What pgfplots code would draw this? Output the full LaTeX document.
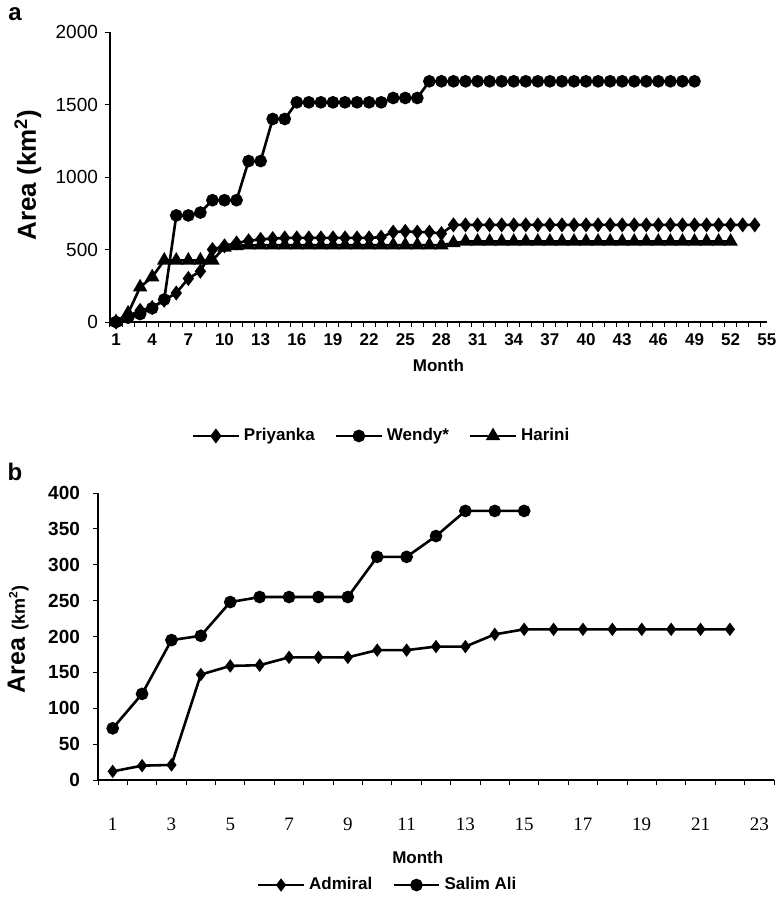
\documentclass[border=0pt]{standalone}
\usepackage{fontspec}
\setmainfont{Liberation Sans}
\newfontfamily\serifnum{Liberation Serif}
\usepackage{pgfplots}
\pgfplotsset{compat=1.18}

\pgfplotsset{
  panel/.style={
    scale only axis,
    anchor=south west,
    axis lines=left,
    axis line style={-, line width=0.6pt},
    tick align=outside,
    major tick length=2.5pt,
    tick style={line width=0.5pt, black},
    /pgf/number format/1000 sep={},
    /pgf/number format/assume math mode=true,
    legend style={draw=none, fill=none, /tikz/every even column/.append style={column sep=8pt}},
    legend columns=-1,
    legend image code/.code={\draw[mark repeat=2,mark phase=2] plot coordinates {(0cm,0cm) (0.4cm,0cm) (0.8cm,0cm)};},
    every axis plot/.append style={black, line width=1.3pt, mark options={solid, fill=black}},
  }
}

\begin{document}
\begin{tikzpicture}
\useasboundingbox (0pt,0pt) rectangle (387.5pt,-451.5pt);

\node[font=\bfseries\fontsize{12}{14}\selectfont] at (7.5pt,-7pt) {a};
\node[font=\bfseries\fontsize{12}{14}\selectfont] at (7.5pt,-236pt) {b};

% panel a
\begin{axis}[panel,
  at={(55pt,-161pt)}, width=328.4pt, height=145pt,
  xmin=0.5, xmax=55, ymin=0, ymax=2000,
  xtick={0.5,1.5,...,54.5}, xticklabels={},
  extra x ticks={1,4,...,55},
  extra x tick style={tick style={draw=none}},
  xticklabel style={font=\bfseries\fontsize{8.5}{10}\selectfont},
  ytick={0,500,...,2000},
  yticklabel style={font=\fontsize{9.5}{10}\selectfont},
  xlabel={Month},
  xlabel style={font=\bfseries\fontsize{8.5}{10}\selectfont, at={(axis description cs:0.5,-0.15)}, anchor=center},
  ylabel={Area (km\textsuperscript{2})},
  ylabel style={font=\bfseries\fontsize{13}{15}\selectfont, at={(axis description cs:-0.125,0.507)}, anchor=center},
  legend style={at={(axis description cs:0.415,-0.393)}, anchor=center, font=\bfseries\fontsize{8.5}{10}\selectfont},
]
\addplot[mark=diamond*, mark size=2.7pt] coordinates {
  (1,0) (2,40) (3,80) (4,100) (5,150) (6,200) (7,300) (8,350) (9,500) (10,525)
  (11,545) (12,560) (13,570) (14,575) (15,580) (16,580) (17,580) (18,580) (19,580) (20,580)
  (21,580) (22,580) (23,585) (24,620) (25,625) (26,620) (27,620) (28,610) (29,670) (30,670)
  (31,670) (32,670) (33,670) (34,670) (35,670) (36,670) (37,670) (38,670) (39,670) (40,670)
  (41,670) (42,670) (43,670) (44,670) (45,670) (46,670) (47,670) (48,670) (49,670) (50,670)
  (51,670) (52,670) (53,670) (54,670)
};
\addlegendentry{Priyanka}
\addplot[mark=*, mark size=2.5pt] coordinates {
  (1,0) (2,30) (3,55) (4,95) (5,155) (6,735) (7,735) (8,755) (9,840) (10,840)
  (11,840) (12,1110) (13,1110) (14,1400) (15,1400) (16,1515) (17,1515) (18,1515) (19,1515) (20,1515)
  (21,1515) (22,1515) (23,1515) (24,1545) (25,1545) (26,1545) (27,1660) (28,1660) (29,1660) (30,1660)
  (31,1660) (32,1660) (33,1660) (34,1660) (35,1660) (36,1660) (37,1660) (38,1660) (39,1660) (40,1660)
  (41,1660) (42,1660) (43,1660) (44,1660) (45,1660) (46,1660) (47,1660) (48,1660) (49,1660)
};
\addlegendentry{Wendy*}
\addplot[mark=triangle*, mark size=2.9pt] coordinates {
  (1,0) (2,60) (3,240) (4,310) (5,425) (6,425) (7,425) (8,425) (9,425) (10,515)
  (11,525) (12,530) (13,530) (14,530) (15,530) (16,530) (17,530) (18,530) (19,530) (20,530)
  (21,530) (22,530) (23,530) (24,530) (25,530) (26,530) (27,530) (28,530) (29,545) (30,555)
  (31,555) (32,555) (33,555) (34,555) (35,555) (36,555) (37,555) (38,555) (39,555) (40,555)
  (41,555) (42,555) (43,555) (44,555) (45,555) (46,555) (47,555) (48,555) (49,555) (50,555)
  (51,555) (52,555)
};
\addlegendentry{Harini}
\end{axis}

% panel b
\begin{axis}[panel,
  at={(49pt,-390pt)}, width=338pt, height=143.5pt,
  xmin=0.5, xmax=23.5, ymin=0, ymax=400,
  xtick={0.5,1.5,...,23.5}, xticklabels={},
  extra x ticks={1,3,...,23},
  extra x tick style={tick style={draw=none}},
  xticklabel style={font=\serifnum\fontsize{9.5}{10}\selectfont, yshift=-13pt},
  ytick={0,50,...,400},
  yticklabel style={font=\bfseries\fontsize{9.5}{10}\selectfont, xshift=-3pt},
  xlabel={Month},
  xlabel style={font=\bfseries\fontsize{8.5}{10}\selectfont, at={(axis description cs:0.473,-0.27)}, anchor=center},
  ylabel={Area {\fontsize{9}{10}\selectfont(km\textsuperscript{2})}},
  ylabel style={font=\bfseries\fontsize{12.5}{14}\selectfont, at={(axis description cs:-0.118,0.49)}, anchor=center},
  legend style={at={(axis description cs:0.43,-0.366)}, anchor=center, font=\bfseries\fontsize{8.5}{10}\selectfont},
]
\addplot[mark=diamond*, mark size=2.3pt] coordinates {
  (1,12) (2,20) (3,21) (4,147) (5,159) (6,160) (7,171) (8,171) (9,171) (10,181)
  (11,181) (12,186) (13,186) (14,203) (15,210) (16,210) (17,210) (18,210) (19,210) (20,210)
  (21,210) (22,210)
};
\addlegendentry{Admiral}
\addplot[mark=*, mark size=2.5pt] coordinates {
  (1,72) (2,120) (3,195) (4,201) (5,248) (6,255) (7,255) (8,255) (9,255) (10,311)
  (11,311) (12,340) (13,375) (14,375) (15,375)
};
\addlegendentry{Salim Ali}
\end{axis}
\end{tikzpicture}
\end{document}
